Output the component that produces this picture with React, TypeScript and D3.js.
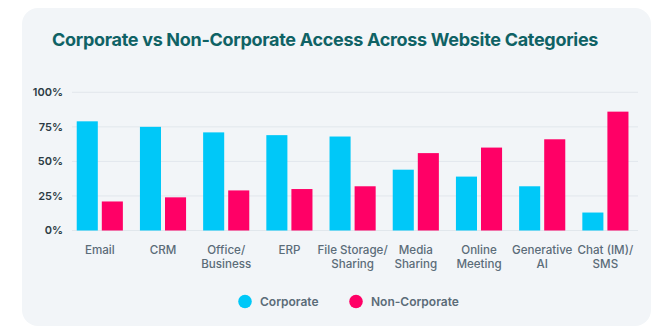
import React from "react";
import * as d3 from "d3";

const categories = [
  ["Email"],
  ["CRM"],
  ["Office/", "Business"],
  ["ERP"],
  ["File Storage/", "Sharing"],
  ["Media", "Sharing"],
  ["Online", "Meeting"],
  ["Generative", "AI"],
  ["Chat (IM)/", "SMS"],
];
const corporate = [79, 75, 71, 69, 68, 44, 39, 32, 13];
const nonCorporate = [21, 24, 29, 30, 32, 56, 60, 66, 86];
const yTicks = [0, 25, 50, 75, 100];
const seriesNames = ["Corporate", "Non-Corporate"];
const colors = ["#00c8f8", "#ff0066"];

const W = 672;
const H = 333;

export default function App() {
  const x = d3
    .scaleBand<number>()
    .domain(d3.range(categories.length))
    .range([68.2, 637])
    .paddingInner(0.27)
    .paddingOuter(0.135);
  const bw = x.bandwidth();
  const gap = 4;
  const barW = (bw - gap) / 2;
  const y = d3.scaleLinear().domain([0, 100]).range([230.5, 92.3]);
  const font = "Inter, 'Noto Sans', sans-serif";

  return (
    <svg
      width={W}
      height={H}
      style={{ position: "absolute", left: 0, top: 0, fontFamily: font }}
    >
      <rect x={0} y={0} width={W} height={H} fill="#ffffff" />
      <rect x={22} y={8} width={629} height={318} rx={16} fill="#f2f5f8" />
      <text x={52} y={46} fontSize={18} fontWeight={700} fill="#0f6265" letterSpacing={-0.3}>
        Corporate vs Non-Corporate Access Across Website Categories
      </text>
      {yTicks.map((t) => (
        <g key={t}>
          <line x1={72} x2={638} y1={y(t)} y2={y(t)} stroke="#e1e7ec" strokeWidth={1} />
          <text x={63} y={y(t)} dy="0.35em" textAnchor="end" fontSize={11} fontWeight={600} fill="#2b3a44">
            {t}%
          </text>
        </g>
      ))}
      {categories.map((c, i) => {
        const x0 = x(i) as number;
        return (
          <g key={i}>
            <rect x={x0} y={y(corporate[i])} width={barW} height={y(0) - y(corporate[i])} fill={colors[0]} />
            <rect x={x0 + barW + gap} y={y(nonCorporate[i])} width={barW} height={y(0) - y(nonCorporate[i])} fill={colors[1]} />
            {c.map((line, j) => (
              <text key={j} x={x0 + bw / 2} y={254 + j * 13.5} textAnchor="middle" fontSize={11.6} fontWeight={500} fill="#5b6c78">
                {line}
              </text>
            ))}
          </g>
        );
      })}
      {seriesNames.map((s, i) => {
        const cx = i === 0 ? 245 : 356;
        return (
          <g key={s}>
            <circle cx={cx} cy={301.5} r={6.8} fill={colors[i]} />
            <text x={cx + 15} y={301.5} dy="0.35em" fontSize={12} fontWeight={600} fill="#5b6c78">
              {s}
            </text>
          </g>
        );
      })}
    </svg>
  );
}
